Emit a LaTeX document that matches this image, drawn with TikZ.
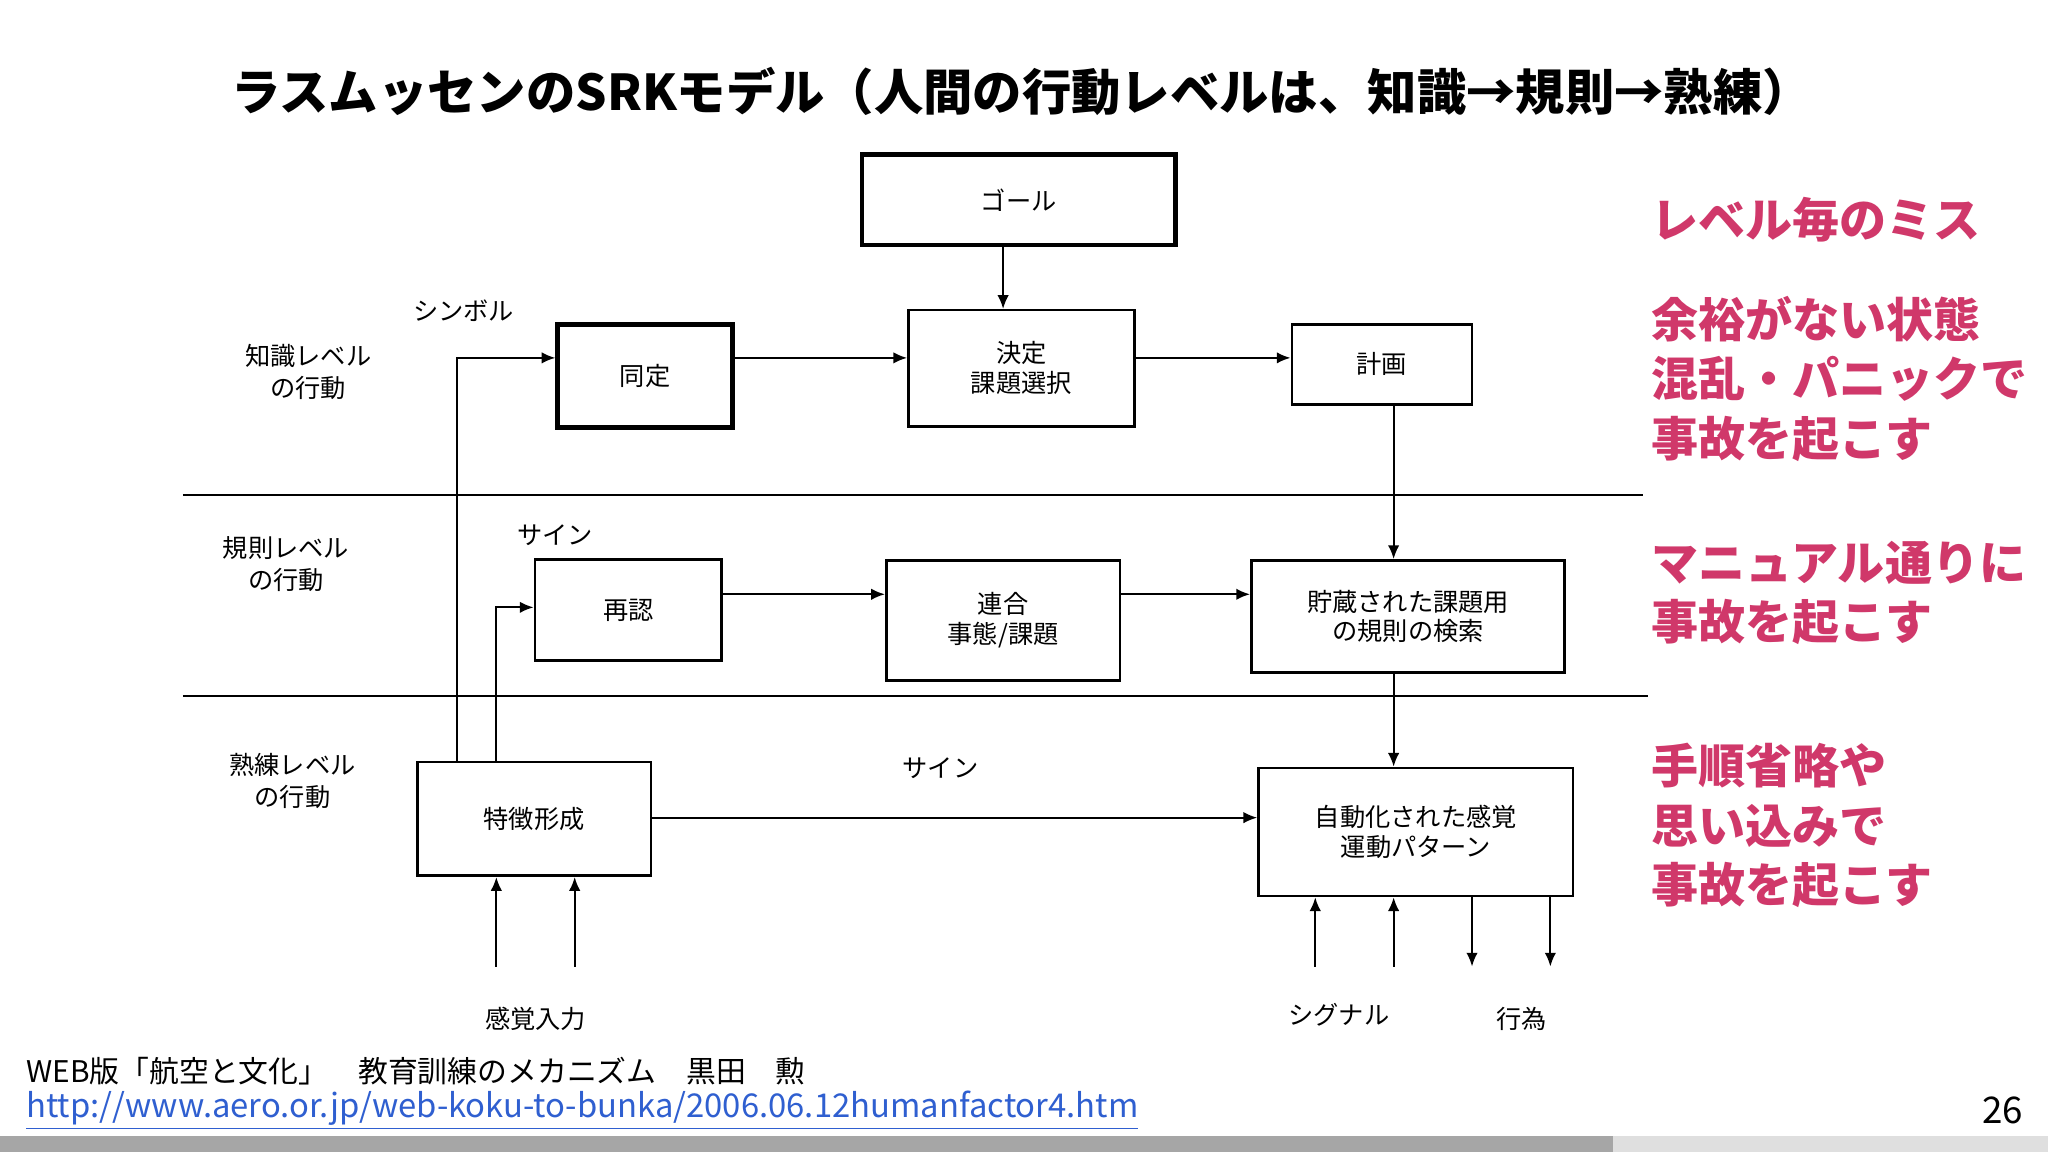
\documentclass[tikz,border=0pt]{standalone}
\usepackage{fontspec}
\setmainfont{Noto Sans CJK JP}
\usetikzlibrary{positioning, arrows.meta}
\definecolor{misspink}{HTML}{D0386A}
\definecolor{urlblue}{HTML}{2F5FD0}

\begin{document}
\begin{tikzpicture}[x=0.02cm, y=-0.02cm, font=\fontsize{11}{13}\selectfont,
    box/.style={draw, line width=1.1pt, align=center, inner sep=0pt},
    thickbox/.style={box, line width=2pt},
    arr/.style={-{Latex[length=6pt,width=5pt]}, line width=0.9pt},
    lvl/.style={align=center, font=\fontsize{11}{14}\selectfont},
    miss/.style={anchor=west, align=left, text=misspink,
        font=\fontsize{20.5}{26}\selectfont\bfseries}]
    % Page and margins
    \useasboundingbox (0,0) rectangle (1568,882);
    \fill[gray!70] (0,870) rectangle (1235,882);
    \fill[gray!25] (1235,870) rectangle (1568,882);

    % Title
    \node[font=\fontsize{21.5}{26}\selectfont\bfseries] (title) at (782,70)
        {ラスムッセンのSRKモデル（人間の行動レベルは、知識→規則→熟練）};

    % Level separators
    \draw[line width=0.9pt] (140,379) -- (1258,379);
    \draw[line width=0.9pt] (140,533) -- (1262,533);

    % Boxes
    \node[thickbox, minimum width=4.8cm, minimum height=1.38cm] (goal) at (780,153) {ゴール};
    \node[thickbox, minimum width=2.68cm, minimum height=1.58cm] (ident) at (494,288) {同定};
    \node[box, minimum width=3.46cm, minimum height=1.78cm] (decide) at (782,282) {決定\\課題選択};
    \node[box, minimum width=2.76cm, minimum height=1.22cm] (plan) at (1058,279) {計画};
    \node[box, minimum width=2.86cm, minimum height=1.54cm] (recog) at (481,467) {再認};
    \node[box, minimum width=3.58cm, minimum height=1.84cm] (assoc) at (768,475) {連合\\事態/課題};
    \node[box, minimum width=4.8cm, minimum height=1.72cm] (rules) at (1078,472) {貯蔵された課題用\\の規則の検索};
    \node[box, minimum width=3.58cm, minimum height=1.74cm] (feat) at (409,627) {特徴形成};
    \node[box, minimum width=4.82cm, minimum height=1.96cm] (auto) at (1084,637) {自動化された感覚\\運動パターン};

    % Level and signal labels
    \node[lvl] (know) at (236,285) {知識レベル\\の行動};
    \node[lvl] (rule) at (219,432) {規則レベル\\の行動};
    \node[lvl] (skill) at (224,598) {熟練レベル\\の行動};
    \node (symbol) at (355,238) {シンボル};
    \node (sign1) at (425,410) {サイン};
    \node (sign2) at (720,588) {サイン};
    \node (input) at (410,780) {感覚入力};
    \node (signal) at (1025,777) {シグナル};
    \node (act) at (1165,780) {行為};

    % Connectors
    \draw[arr] (goal.south -| 768,0) -- (decide.north -| 768,0);
    \draw[arr] (ident.east |- 0,274) -- (decide.west |- 0,274);
    \draw[arr] (decide.east |- 0,274) -- (plan.west |- 0,274);
    \draw[arr] (plan.south -| 1067,0) -- (rules.north -| 1067,0);
    \draw[arr] (recog.east |- 0,455) -- (assoc.west |- 0,455);
    \draw[arr] (assoc.east |- 0,455) -- (rules.west |- 0,455);
    \draw[arr] (rules.south -| 1067,0) -- (auto.north -| 1067,0);
    \draw[arr] (feat.east |- 0,626) -- (auto.west |- 0,626);
    \draw[arr] (feat.north -| 350,0) -- (350,274) -- (ident.west |- 0,274);
    \draw[arr] (feat.north -| 380,0) -- (380,465) -- (recog.west |- 0,465);

    % Inputs and outputs
    \foreach \x in {380, 440}
        \draw[arr] (\x,740) -- (feat.south -| \x,0);
    \foreach \x in {1007, 1067}
        \draw[arr] (\x,740) -- (auto.south -| \x,0);
    \foreach \x in {1127, 1187}
        \draw[arr] (auto.south -| \x,0) -- (\x,740);

    % Errors per level
    \node[miss] (m0) at (1258,168) {レベル毎のミス};
    \node[miss] (m1) at (1258,290) {余裕がない状態\\混乱・パニックで\\事故を起こす};
    \node[miss] (m2) at (1258,454) {マニュアル通りに\\事故を起こす};
    \node[miss] (m3) at (1258,632) {手順省略や\\思い込みで\\事故を起こす};

    % Source
    \node[anchor=west, font=\fontsize{13}{15}\selectfont] (src) at (14,820)
        {WEB版「航空と文化」　教育訓練のメカニズム　黒田　勲};
    \node[anchor=west, text=urlblue, font=\fontsize{14.3}{16}\selectfont] (url) at (14,850)
        {\underline{http://www.aero.or.jp/web-koku-to-bunka/2006.06.12humanfactor4.htm}};
    \node[anchor=east, font=\fontsize{16}{18}\selectfont] (page) at (1555,850) {26};
\end{tikzpicture}
\end{document}
